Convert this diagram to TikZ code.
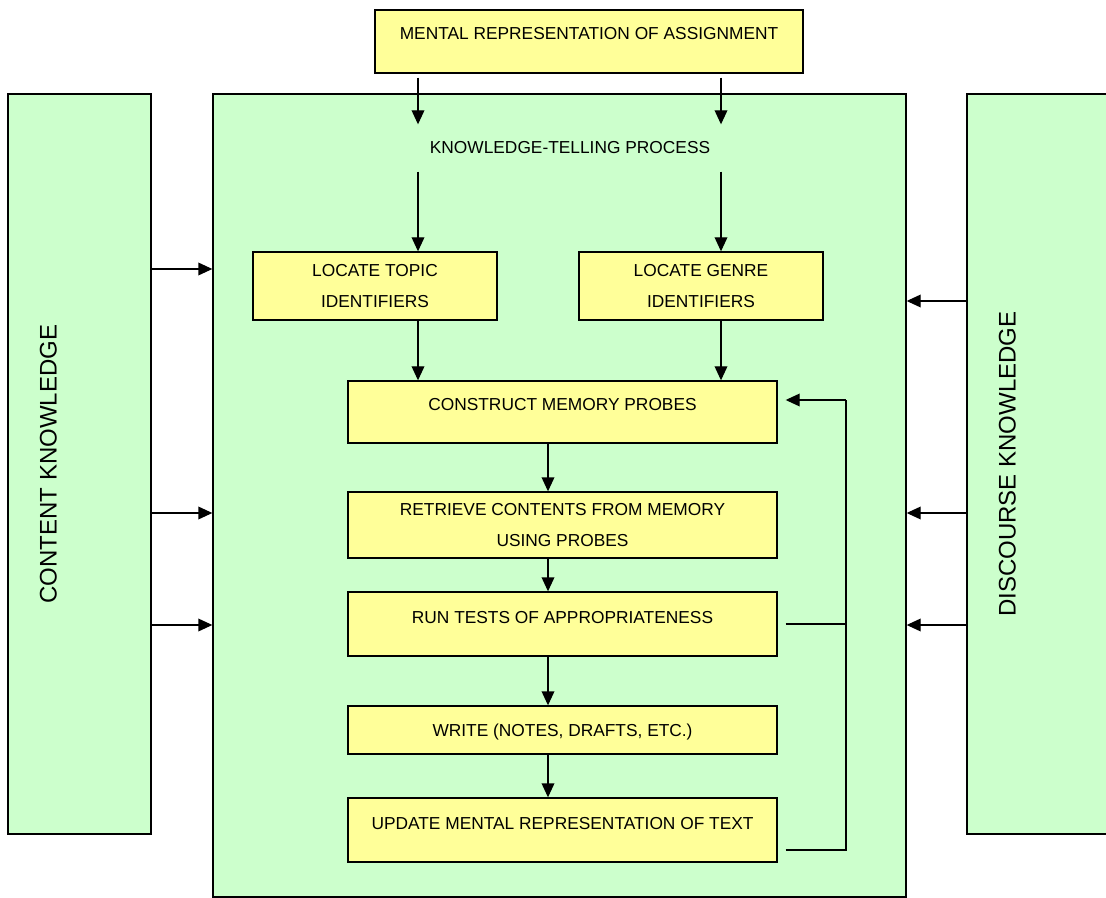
\documentclass[tikz,border=0pt]{standalone}
\usepackage{fontspec}
\setmainfont{Liberation Sans}
\usetikzlibrary{positioning,arrows.meta}
\definecolor{panelgreen}{HTML}{CCFFCC}
\definecolor{procyellow}{HTML}{FFFF99}

\begin{document}
\begin{tikzpicture}[x=0.75pt, y=-0.75pt,
	every node/.style={align=center,
					   inner sep=1pt
					   },
	proc/.style= {draw, fill=procyellow,
				  font=\fontsize{13}{23}\selectfont,
				  minimum width=321.75pt
	},
	oneline/.style={proc, text height=9pt, text depth=10.5pt},
	panel/.style={draw, fill=panelgreen},
	side/.style={panel, minimum width=107.25pt, minimum height=555pt},
	sidetext/.style={rotate=90, font=\fontsize{18}{22}\selectfont},
	>={Triangle[width=9.5pt,length=10.5pt]},
	line width=1pt
]
	\useasboundingbox (0,0) rectangle (1106,898);
	\node (main) [panel, minimum width=519.75pt, minimum height=602.25pt] at (559.5,495.5) {};
	\node (content) [side] at (79.5,464) {};
	\node (discourse) [side] at (1038.5,464) {};
	\node (contentlbl) [sidetext] at ([xshift=30.75pt]content.west) {CONTENT KNOWLEDGE};
	\node (discourselbl) [sidetext] at ([xshift=30.75pt]discourse.west) {DISCOURSE KNOWLEDGE};

	\node (assign) [proc, minimum width=321pt, minimum height=47.25pt,
		text height=9pt, text depth=12pt] at (589,41.5) {MENTAL REPRESENTATION OF ASSIGNMENT};
	\node (ktp) [font=\fontsize{13}{16}\selectfont, text height=9pt, text depth=0pt,
		inner ysep=12.75pt] at (570,148) {KNOWLEDGE-TELLING PROCESS};
	\node (topic) [proc, minimum width=183pt, minimum height=51pt] at (375,286) {LOCATE TOPIC\\IDENTIFIERS};
	\node (genre) [proc, minimum width=183pt, minimum height=51pt, right=60.5pt of topic] {LOCATE GENRE\\IDENTIFIERS};
	\node (construct) [oneline, minimum height=46.5pt] at (562.5,412) {CONSTRUCT MEMORY PROBES};
	\node (retrieve) [proc, minimum height=49.5pt, below=35.75pt of construct] {RETRIEVE CONTENTS FROM MEMORY\\USING PROBES};
	\node (tests) [oneline, minimum height=48pt, below=24.5pt of retrieve] {RUN TESTS OF APPROPRIATENESS};
	\node (write) [oneline, text depth=0pt, minimum height=36pt, below=36.5pt of tests] {WRITE (NOTES, DRAFTS, ETC.)};
	\node (update) [oneline, minimum height=48pt, below=32pt of write] {UPDATE MENTAL REPRESENTATION OF TEXT};

	\coordinate (laneA) at (418,0);
	\coordinate (laneB) at (721,0);
	\coordinate (spine) at (548,0);
	\coordinate (loop) at (846,400);

	% the two lanes down to the memory probes
	\foreach \lane/\loc in {laneA/topic,laneB/genre}{
		\draw[->, shorten <=3pt] (assign.south -| \lane) -- (ktp.north -| \lane);
		\draw[->] (ktp.south -| \lane) -- (\loc.north -| \lane);
		\draw[->] (\loc.south -| \lane) -- (construct.north -| \lane);
	}
	\foreach \a/\b in {construct/retrieve,retrieve/tests,tests/write,write/update}
		\draw[->] (\a.south -| spine) -- (\b.north -| spine);

	% loop back
	\draw[->, shorten >=6pt] (loop) -- (construct.east |- loop);
	\draw[shorten <=6pt] (tests.east) -- (tests.east -| loop);
	\draw[shorten <=6pt] ([yshift=-15pt]update.east) -| (loop);

	\foreach \y in {269,513,625}
		\draw[->] (content.east |- 0,\y) -- (main.west |- 0,\y);
	\foreach \y in {301,513,625}
		\draw[->] (discourse.west |- 0,\y) -- (main.east |- 0,\y);
\end{tikzpicture}
\end{document}
